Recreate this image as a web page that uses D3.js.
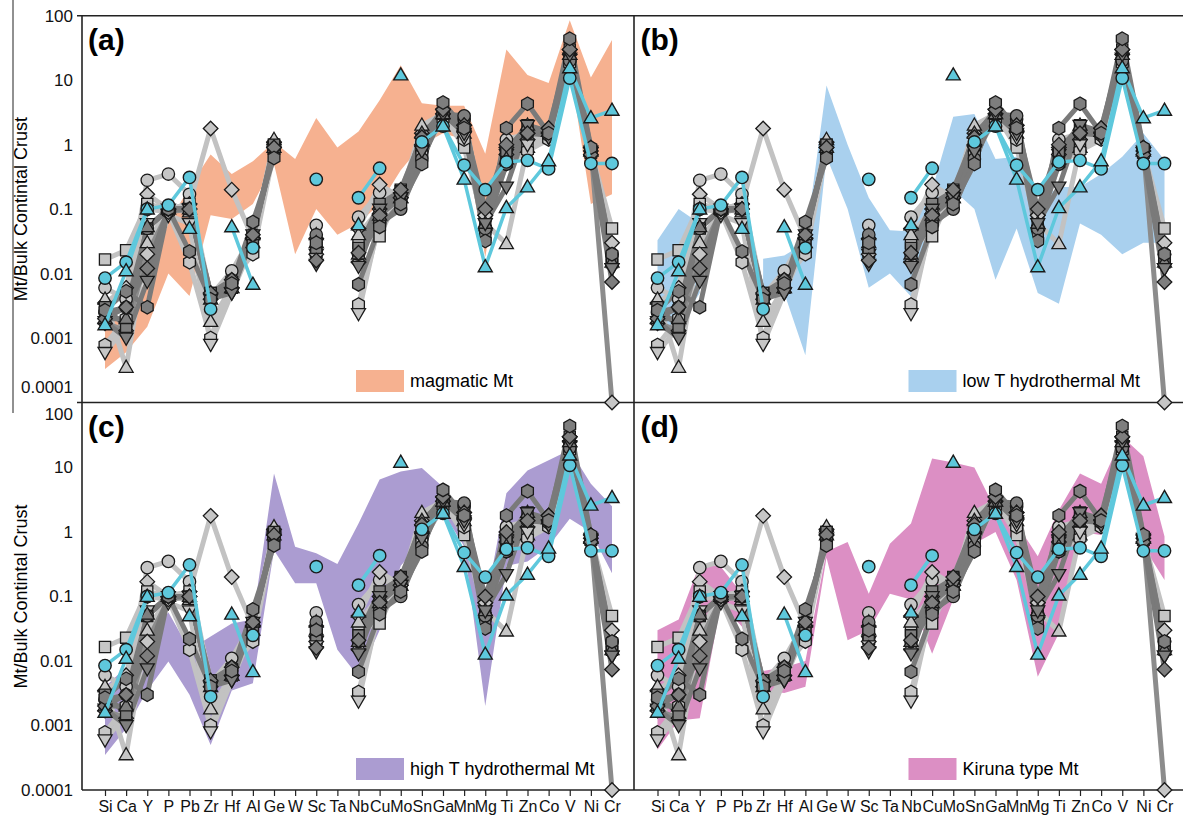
<!DOCTYPE html>
<html><head><meta charset="utf-8">
<script src="https://cdn.jsdelivr.net/npm/d3@7"></script>
<style>
body{margin:0;background:#fff}
text{font-family:Arial,"Liberation Sans",Helvetica,sans-serif}
</style>
</head><body>
<svg id="chart" width="1183" height="820"></svg>
<script>
// ---------------- DATA ----------------
const categories = ["Si","Ca","Y","P","Pb","Zr","Hf","Al","Ge","W","Sc","Ta","Nb","Cu","Mo","Sn","Ga","Mn","Mg","Ti","Zn","Co","V","Ni","Cr"];
const yTicks = [100,10,1,0.1,0.01,0.001,0.0001];
const yTickLabels = ["100","10","1","0.1","0.01","0.001","0.0001"];
const panelLabels = ["(a)","(b)","(c)","(d)"];
const legendLabels = ["magmatic Mt","low T hydrothermal Mt","high T hydrothermal Mt","Kiruna type Mt"];
const yTitle = "Mt/Bulk Contintal Crust";

// envelopes (lower / upper)
const magmaticLow  = [0.00033,0.0006,0.0015,0.01,0.0045,0.08,0.07,0.12,0.5,0.02,0.1,0.04,0.06,0.12,0.4,1.0,1.5,1.2,0.018,1.5,1.2,2,16,0.12,0.17];
const magmaticHigh = [0.0015,0.0025,0.008,0.06,0.22,0.7,0.35,0.55,1.1,0.6,2.6,0.9,1.6,4.9,17,4.4,4.0,4.0,0.72,30,12,9,85,11,42];
const lowTLow  = [0.0013,0.0015,0.005,null,null,0.004,0.005,0.00054,0.65,0.1,0.006,0.01,0.0044,0.04,0.2,0.1,0.008,0.05,0.005,0.0034,0.06,0.04,0.02,0.03,0.03];
const lowTHigh = [0.033,0.1,0.06,null,null,0.017,0.019,0.03,8.3,1.0,0.15,0.047,0.045,0.2,2.7,3,0.6,0.65,0.13,0.22,0.22,0.35,0.65,1.5,0.57];
const highTLow  = [0.00035,0.0009,0.0035,0.0098,0.003,0.0005,0.0035,0.0045,0.52,0.16,0.16,0.015,0.0057,0.03,0.3,0.7,2,0.6,0.002,0.3,0.35,0.6,1.6,1,0.23];
const highTHigh = [0.004,0.008,0.02,0.057,0.015,0.024,0.038,0.044,8.1,0.59,0.47,0.32,1.35,6.5,8.7,9.8,5,2,0.07,4,9,13,18.6,5.6,2.5];
const kirunaLow  = [0.00042,0.0012,0.0013,0.078,0.034,0.0035,0.0032,0.004,0.4,0.021,0.03,0.11,0.09,0.013,0.09,0.66,1,0.18,0.0057,0.027,1,0.9,10,0.6,0.18];
const kirunaHigh = [0.03,0.044,0.32,0.29,0.11,0.007,0.008,0.01,0.5,0.7,0.11,0.66,1.35,13.8,12,10,2.2,1.35,0.42,2.2,8.1,5.6,30,15,0.85];

// gray samples
const grayLightCircle   = [0.006,0.004,0.28,0.35,0.17,0.0045,0.011,0.04,0.9,null,0.056,null,0.075,0.18,0.15,0.8,3.0,2.5,0.07,1.2,1.5,1.4,20,0.85,0.02];
const grayLightDiamond  = [0.0035,0.006,0.17,0.1,0.12,1.78,0.2,0.035,1.1,null,0.035,null,0.05,0.24,0.15,1.5,3.5,1.6,0.08,0.9,1.2,1.8,25,0.8,0.03];
const grayLightSquare   = [0.0165,0.023,0.12,0.1,0.12,0.005,0.006,0.03,1.0,null,0.03,null,0.03,0.038,0.2,1.2,3.0,0.9,0.05,0.6,1.0,1.5,20,0.8,0.05];
const grayLightTriangle = [0.004,0.00035,0.03,0.1,0.09,0.0018,0.006,0.03,1.2,null,0.04,null,0.04,0.1,0.15,2.0,3.0,1.5,0.06,0.029,0.9,1.6,25,0.8,null];
const grayLightHexagon  = [0.00078,0.002,0.1,0.09,0.015,0.001,0.008,0.02,0.8,null,0.02,null,0.0033,0.06,0.15,0.7,2.5,1.2,0.05,0.5,0.8,1.2,18,0.7,0.015];
const grayLightTriDown  = [0.0006,0.0015,0.06,0.08,0.06,0.0008,0.005,0.03,0.9,null,0.02,null,0.0024,0.07,0.15,0.8,2.5,1.3,0.04,0.7,1.0,1.3,22,0.75,0.012];
const grayDarkHexagon   = [0.0027,0.0053,0.003,0.1,0.022,0.004,0.007,0.063,0.62,null,0.03,null,0.0068,0.053,0.12,0.5,4.5,1.8,0.032,1.8,4.3,1.5,44,0.9,0.02];
const grayDarkTriDown   = [0.0018,0.001,0.0076,0.1,0.1,0.004,0.005,0.04,0.8,null,0.014,null,0.013,0.1,0.15,0.8,3.0,1.5,0.06,0.22,2.0,1.3,25,0.8,0.012];
const grayDarkDiamond   = [0.002,0.003,0.012,0.1,0.1,0.005,0.008,0.04,0.9,null,0.016,null,0.021,0.08,0.2,1.3,3.5,2.0,0.1,1.0,1.5,1.8,30,0.7,0.0074];
const grayDarkSquare    = [0.003,0.0015,0.05,0.1,0.1,0.005,0.006,0.035,1.0,null,0.025,null,0.025,0.12,0.19,1.0,3.0,2.5,0.04,0.8,2.0,1.5,30,0.8,0.015];
const grayDarkCircle    = [0.0025,0.003,0.05,0.1,0.1,0.004,0.007,0.04,0.8,null,0.04,null,0.02,0.06,0.1,0.6,3.0,2.8,0.05,0.5,1.5,1.4,20,0.8,0.02];
const grayDarkTriangle  = [0.002,0.002,0.053,0.1,0.1,0.004,0.006,0.04,0.9,null,0.03,null,0.02,0.08,0.15,1.5,3.0,2.0,0.06,0.6,2.0,1.6,25,0.8,0.015];
const grayMidDiamond    = [0.0017,0.0013,0.02,0.09,0.1,0.004,0.006,0.035,0.9,null,0.02,null,0.015,0.1,0.15,1.0,3.0,2.0,0.08,0.7,1.5,1.5,30,0.9,0.0001];

// cyan samples
const cyanCircle   = [0.0085,0.015,0.1,0.115,0.31,0.0028,null,0.025,null,null,0.29,null,0.15,0.43,null,1.1,1.94,0.48,0.2,0.54,0.57,0.42,10.8,0.51,0.51];
const cyanTriangle = [0.0016,0.011,0.1,null,0.05,null,0.053,0.0068,null,null,null,null,0.057,null,12,null,1.94,0.29,0.0127,0.105,0.22,0.56,15.5,2.6,3.4];

// ---------------- STYLE / LAYOUT ----------------
const LIGHT = {line:"#c2c2c2", fill:"#c6c6c6"};
const DARK  = {line:"#7a7a7a", fill:"#7e7e7e"};
const MID   = {line:"#8c8c8c", fill:"#c6c6c6"};
const CYAN  = {line:"#5ec8dc", fill:"#5ec8dc"};

const graySeries = [
  {v:grayLightCircle,   s:LIGHT, m:"circle"},
  {v:grayLightDiamond,  s:LIGHT, m:"diamond"},
  {v:grayLightSquare,   s:LIGHT, m:"square"},
  {v:grayLightTriangle, s:LIGHT, m:"triangle"},
  {v:grayLightHexagon,  s:LIGHT, m:"hexagon"},
  {v:grayLightTriDown,  s:LIGHT, m:"triangleDown"},
  {v:grayMidDiamond,    s:MID,   m:"diamond"},
  {v:grayDarkSquare,    s:DARK,  m:"square"},
  {v:grayDarkCircle,    s:DARK,  m:"circle"},
  {v:grayDarkTriangle,  s:DARK,  m:"triangle"},
  {v:grayDarkTriDown,   s:DARK,  m:"triangleDown"},
  {v:grayDarkDiamond,   s:DARK,  m:"diamond"},
  {v:grayDarkHexagon,   s:DARK,  m:"hexagon"}
];
const cyanSeries = [
  {v:cyanCircle,   s:CYAN, m:"circle"},
  {v:cyanTriangle, s:CYAN, m:"triangle"}
];
const envelopes = [
  {lo:magmaticLow, hi:magmaticHigh, color:"#f6b190"},
  {lo:lowTLow,     hi:lowTHigh,     color:"#a9d0ee"},
  {lo:highTLow,    hi:highTHigh,    color:"#ab9cd1"},
  {lo:kirunaLow,   hi:kirunaHigh,   color:"#dc8fc4"}
];

const svg = d3.select("#chart");
const W = 1183;
const axisX = 82, divX = 634, colShift = divX - axisX + 0.5;
const rows = [{top:15.7, bottom:402.5},{top:403, bottom:790}];

function symbolPath(type, cx, cy){
  const p = d3.path();
  if(type==="circle"){ p.arc(cx,cy,6.2,0,2*Math.PI); }
  else if(type==="square"){ p.rect(cx-5.6,cy-5.6,11.2,11.2); }
  else if(type==="diamond"){ const r=7.3; p.moveTo(cx,cy-r); p.lineTo(cx+r,cy); p.lineTo(cx,cy+r); p.lineTo(cx-r,cy); p.closePath(); }
  else if(type==="triangle"){ const s=14, h=s*0.866; p.moveTo(cx,cy-h*0.6); p.lineTo(cx+s/2,cy+h*0.4); p.lineTo(cx-s/2,cy+h*0.4); p.closePath(); }
  else if(type==="triangleDown"){ const s=14, h=s*0.866; p.moveTo(cx,cy+h*0.6); p.lineTo(cx+s/2,cy-h*0.4); p.lineTo(cx-s/2,cy-h*0.4); p.closePath(); }
  else if(type==="hexagon"){ const r=6.8; for(let k=0;k<6;k++){ const a=Math.PI/2+k*Math.PI/3; const px=cx+r*Math.cos(a), py=cy-r*Math.sin(a); if(k===0)p.moveTo(px,py); else p.lineTo(px,py);} p.closePath(); }
  return p.toString();
}

const layers = {env:svg.append("g"), frame:svg.append("g"), grayLines:svg.append("g"), grayMarks:svg.append("g"), cyanLines:svg.append("g"), cyanMarks:svg.append("g"), text:svg.append("g")};

for(let pi=0; pi<4; pi++){
  const row = rows[Math.floor(pi/2)], col = pi%2;
  const off = col*colShift;
  const x = d3.scalePoint().domain(categories).range([105+off, 612+off]);
  const y = d3.scaleLog().domain([0.0001,100]).range([row.bottom, row.top]);

  const env = envelopes[pi];
  const area = d3.area()
    .defined((d,i)=>env.lo[i]!=null && env.hi[i]!=null)
    .x((d,i)=>x(categories[i]))
    .y0((d,i)=>y(env.lo[i]))
    .y1((d,i)=>y(env.hi[i]));
  layers.env.append("path").attr("d", area(categories)).attr("fill", env.color);

  const mkLine = vals => d3.line().defined((d,i)=>vals[i]!=null).x((d,i)=>x(categories[i])).y((d,i)=>y(vals[i]))(categories);
  graySeries.forEach(s=>{
    layers.grayLines.append("path").attr("d", mkLine(s.v)).attr("fill","none")
      .attr("stroke", s.s.line).attr("stroke-width", 5).attr("stroke-linejoin","round");
  });
  graySeries.forEach(s=>{
    s.v.forEach((v,i)=>{ if(v==null) return;
      layers.grayMarks.append("path").attr("d", symbolPath(s.m, x(categories[i]), y(v)))
        .attr("fill", s.s.fill).attr("stroke","#1a1a1a").attr("stroke-width",1.3);
    });
  });
  cyanSeries.forEach(s=>{
    layers.cyanLines.append("path").attr("d", mkLine(s.v)).attr("fill","none")
      .attr("stroke", s.s.line).attr("stroke-width", 3.5).attr("stroke-linejoin","round");
  });
  cyanSeries.forEach(s=>{
    s.v.forEach((v,i)=>{ if(v==null) return;
      layers.cyanMarks.append("path").attr("d", symbolPath(s.m, x(categories[i]), y(v)))
        .attr("fill", s.s.fill).attr("stroke","#1a1a1a").attr("stroke-width",1.4);
    });
  });

  layers.text.append("text").attr("x", 88+off).attr("y", row.top+34).attr("font-size",30).attr("font-weight","bold").text(panelLabels[pi]);
  const lx = 356+off, ly = pi<2 ? 370 : 758;
  layers.text.append("rect").attr("x", lx).attr("y", ly).attr("width",48).attr("height",22).attr("fill", env.color);
  layers.text.append("text").attr("x", lx+54).attr("y", ly+17).attr("font-size",18).text(legendLabels[pi]);

  if(col===0){
    const ax = layers.frame.append("g").attr("transform",`translate(${axisX},0)`)
      .call(d3.axisLeft(y).tickValues(yTicks).tickSize(0).tickPadding(9).tickFormat((d,i)=>yTickLabels[i]));
    ax.select(".domain").remove();
    ax.selectAll("text").attr("font-size",17).attr("font-family","Arial, 'Liberation Sans', sans-serif").attr("fill","#111");
    if(row.top<100){ ax.selectAll("text").filter(d=>d===0.0001).attr("dy","-0.6em"); }
    else { ax.selectAll("text").filter(d=>d===100).attr("dy","0.95em"); }
    layers.text.append("text").attr("transform",`translate(27,${(row.top+row.bottom)/2}) rotate(-90)`)
      .attr("text-anchor","middle").attr("font-size",18).text(yTitle);
  }
  if(row.top>100){
    const ax = layers.frame.append("g").attr("transform",`translate(0,${row.bottom})`)
      .call(d3.axisBottom(x).tickSize(6).tickPadding(5));
    ax.select(".domain").remove();
    ax.selectAll("line").attr("stroke","#222").attr("stroke-width",1.2);
    ax.selectAll("text").attr("font-size",16).attr("font-family","Arial, 'Liberation Sans', sans-serif").attr("fill","#111");
  }
}

const fr = layers.frame;
const ln = (x1,y1,x2,y2,w)=>fr.append("line").attr("x1",x1).attr("y1",y1).attr("x2",x2).attr("y2",y2).attr("stroke","#222").attr("stroke-width",w||1.6);
ln(77, rows[0].top, W, rows[0].top);
ln(77, rows[0].bottom, W, rows[0].bottom);
ln(axisX, rows[1].bottom, W, rows[1].bottom);
ln(axisX, rows[0].top, axisX, rows[1].bottom);
ln(divX, rows[0].top, divX, rows[1].bottom);
ln(13, 0, 13, 413, 1);
</script>
</body></html>
